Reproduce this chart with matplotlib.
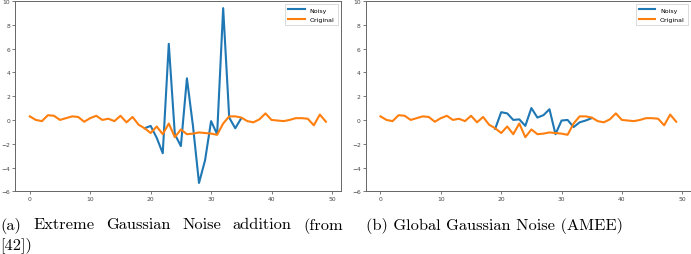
import matplotlib
matplotlib.use("Agg")
import matplotlib.pyplot as plt
import numpy as np

x = list(range(50))
original = [0.3, 0.0, -0.1, 0.4, 0.35, 0.0, 0.15, 0.3, 0.25, -0.15,
            0.15, 0.35, 0.0, 0.1, -0.1, 0.35, -0.2, 0.25, -0.4, -0.7,
            -1.1, -0.55, -1.2, -0.3, -1.45, -0.8, -1.2, -1.15, -1.05, -1.1,
            -1.15, -1.25, -0.3, 0.3, 0.3, 0.2, -0.1, -0.2, 0.05, 0.55,
            0.0, -0.05, -0.1, 0.0, 0.15, 0.15, 0.1, -0.45, 0.45, -0.15]
noisy_x = list(range(19, 36))
noisy_a = [-0.7, -0.5, -1.5, -2.8, 6.4, -1.2, -2.2, 3.5, -0.5, -5.3,
           -3.4, -0.1, -1.2, 9.4, 0.2, -0.7, 0.15]
noisy_b = [-0.75, 0.65, 0.55, 0.0, 0.05, -0.5, 1.0, 0.2, 0.4, 0.9,
           -1.2, -0.05, 0.0, -0.6, -0.2, -0.05, 0.15]
caption_a_line1 = ["(a)", "Extreme", "Gaussian", "Noise", "addition", "(from"]
caption_a_line2 = "[42])"
caption_b = "(b) Global Gaussian Noise (AMEE)"
xticks = [0, 10, 20, 30, 40, 50]
yticks = [-6, -4, -2, 0, 2, 4, 6, 8, 10]

W, H = 691, 255
fig = plt.figure(figsize=(W / 100, H / 100), dpi=100)

boxes = [(15, 340.7), (365.7, 691)]
top, bottom = 2, 192.3
for (l, r), noisy in zip(boxes, [noisy_a, noisy_b]):
    ax = fig.add_axes([l / W, 1 - bottom / H, (r - l) / W, (bottom - top) / H])
    ax.plot(noisy_x, noisy, color="#1f77b4", lw=1.5, label="Noisy")
    ax.plot(x, original, color="#ff7f0e", lw=1.5, label="Original")
    ax.set_ylim(-6, 10)
    ax.set_xticks(xticks)
    ax.set_yticks(yticks)
    ax.tick_params(labelsize=4.3, length=2, width=0.5, pad=1.5,
                   colors="#444444")
    for s in ax.spines.values():
        s.set_linewidth(0.7)
        s.set_color("#666666")
    leg = ax.legend(loc="upper right", fontsize=4.5, handlelength=2.6,
                    borderpad=0.5, labelspacing=0.6, fancybox=False,
                    framealpha=1)
    leg.get_frame().set_linewidth(0.5)
    leg.get_frame().set_edgecolor("#cccccc")

fs = 11.8
renderer = fig.canvas.get_renderer()
# justified first line of caption (a), spanning 0..343 px
words = [fig.text(0, 1 - 218.5 / H, w, fontsize=fs, family="cmr10",
                  va="top", ha="left") for w in caption_a_line1]
widths = [t.get_window_extent(renderer).width for t in words]
left_px, right_px = 0.5, 343
gap = (right_px - left_px - sum(widths)) / (len(words) - 1)
pos = left_px
for t, wdt in zip(words, widths):
    t.set_x(pos / W)
    pos += wdt + gap
fig.text(0.5 / W, 1 - 237.5 / H, caption_a_line2, fontsize=fs, family="cmr10",
         va="top", ha="left")
fig.text(365.5 / W, 1 - 218.5 / H, caption_b, fontsize=fs, family="cmr10",
         va="top", ha="left")

fig.savefig("out.png", dpi=100)
